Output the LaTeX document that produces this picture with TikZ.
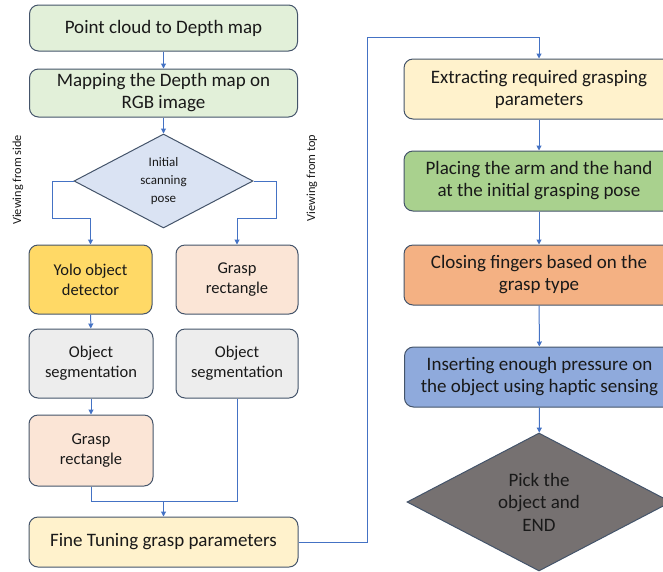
\documentclass[tikz,border=0pt]{standalone}
\usepackage{fontspec}
\setmainfont{Carlito}
\usetikzlibrary{shapes.geometric,arrows.meta}

\definecolor{edge}{HTML}{44546A}
\definecolor{flow}{HTML}{4472C4}
\definecolor{lgreen}{HTML}{E2F0D9}
\definecolor{lblue}{HTML}{DAE3F3}
\definecolor{yolo}{HTML}{FFD966}
\definecolor{peach}{HTML}{FBE5D6}
\definecolor{lgray}{HTML}{EDEDED}
\definecolor{cream}{HTML}{FFF2CC}
\definecolor{mgreen}{HTML}{A9D18E}
\definecolor{orange}{HTML}{F4B183}
\definecolor{mblue}{HTML}{8FAADC}
\definecolor{dgray}{HTML}{767171}

\tikzset{
  card/.style={draw=edge, line width=1pt, rounded corners=9pt, align=center,
    inner sep=0pt, text=black!90},
  bigtext/.style={font=\fontsize{19}{22}\selectfont},
  smalltext/.style={font=\fontsize{16.5}{20}\selectfont},
  decide/.style={diamond, draw=edge, line width=1pt, align=center, inner sep=0pt,
    text=black!90},
  link/.style={draw=flow, line width=1pt},
  arr/.style={link, -{Triangle[length=5pt,width=5pt]}},
  sidelabel/.style={rotate=90, font=\fontsize{12.3}{14}\selectfont, text=black!90}
}

\begin{document}
\begin{tikzpicture}[x=1pt, y=-1pt]
\useasboundingbox (0,0) rectangle (663,571);
\clip (0,0) rectangle (663,571);

% left column: preprocessing and detection
\node[card, bigtext, fill=lgreen, minimum width=268pt, minimum height=46pt] (p1) at (163.5,28) {Point cloud to Depth map};
\node[card, bigtext, fill=lgreen, minimum width=268pt, minimum height=48pt] (p2) at (163.5,93) {Mapping the Depth map on\\RGB image};
\node[decide, fill=lblue, shape aspect=1.9, minimum width=179pt, minimum height=94pt,
      font=\fontsize{13}{18}\selectfont] (d1) at (163.5,181) {Initial\\scanning\\pose};

\node[card, smalltext, fill=yolo, minimum width=123pt, minimum height=69pt] (yolo) at (90.5,279.5) {Yolo object\\detector};
\node[card, smalltext, fill=peach, minimum width=122pt, minimum height=69pt] (gr1) at (237,279.5) {Grasp\\rectangle};
\node[card, smalltext, fill=lgray, minimum width=124pt, minimum height=69pt] (seg1) at (91,363.5) {Object\\segmentation};
\node[card, smalltext, fill=lgray, minimum width=122pt, minimum height=69pt] (seg2) at (237,363.5) {Object\\segmentation};
\node[card, smalltext, fill=peach, minimum width=124pt, minimum height=71pt] (gr2) at (91,450.5) {Grasp\\rectangle};
\node[card, bigtext, fill=cream, minimum width=269pt, minimum height=50pt] (fine) at (163.5,542) {Fine Tuning grasp parameters};

\node[sidelabel] (side) at (18,180) {Viewing from side};
\node[sidelabel] (top) at (312,178) {Viewing from top};

% right column: grasp execution
\node[card, bigtext, fill=cream, minimum width=270pt, minimum height=60pt] (ext) at (539,89) {Extracting required grasping\\parameters};
\node[card, bigtext, fill=mgreen, minimum width=270pt, minimum height=60pt] (place) at (539,181) {Placing the arm and the hand\\at the initial grasping pose};
\node[card, bigtext, fill=orange, minimum width=270pt, minimum height=60pt] (close) at (539,275) {Closing fingers based on the\\grasp type};
\node[card, bigtext, fill=mblue, minimum width=270pt, minimum height=60pt] (press) at (539.5,377) {Inserting enough pressure on\\the object using haptic sensing};
\node[decide, fill=dgray, shape aspect=1.9, minimum width=264pt, minimum height=138pt,
      font=\fontsize{19}{22.5}\selectfont] (fin) at (539,502) {Pick the\\object and\\END};

% bend points of the connectors
\coordinate (lbend) at (52,218);
\coordinate (rbend) at (276,218);
\coordinate (merge) at (163.5,501);
\coordinate (rise) at (367,37);

% connectors
\draw[arr] (p1) -- (p2);
\draw[arr] (p2) -- (d1);
\draw[arr] (d1.west) -| (lbend) -| (yolo.north);
\draw[arr] (d1.east) -| (rbend) -| (gr1.north);
\draw[arr] (yolo) -- (seg1);
\draw[arr] (seg1) -- (gr2);
\draw[link] (gr2.south) |- (merge);
\draw[link] (seg2.south) |- (merge);
\draw[arr] (merge) -- (fine.north);
\draw[arr] (fine.east) -| (rise) -| (ext.north);
\draw[arr] (ext) -- (place);
\draw[arr] (place) -- (close);
\draw[arr] (close) -- (press);
\draw[arr] (press) -- (fin);
\end{tikzpicture}
\end{document}
